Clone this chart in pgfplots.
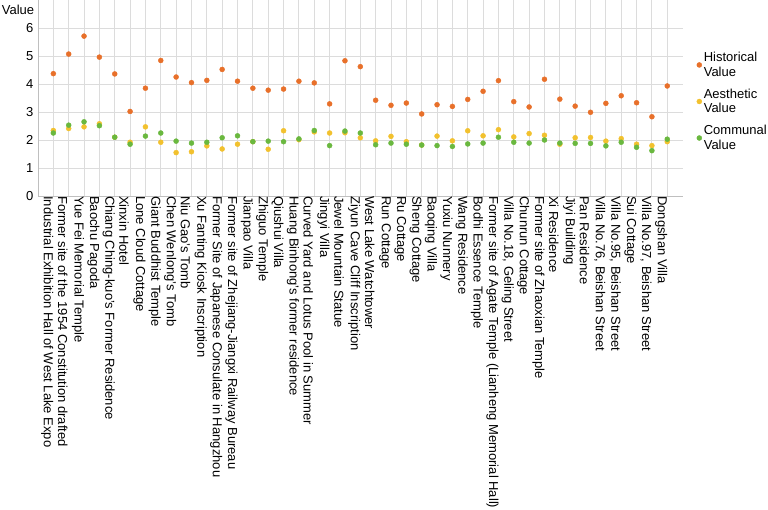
\documentclass[border=0pt]{standalone}
\usepackage{fontspec}
\setmainfont{Liberation Sans}
\usepackage{pgfplots}
\usepackage{pgfplotstable}
\pgfplotsset{compat=1.18}
\definecolor{histc}{HTML}{E8702A}
\definecolor{aesc}{HTML}{F2C12E}
\definecolor{comc}{HTML}{6AB83F}
\definecolor{gridc}{HTML}{DCDCDC}
\definecolor{axisc}{HTML}{BFBFBF}
\pgfplotstableread{
x H A C
1 4.37 2.34 2.25
2 5.07 2.41 2.53
3 5.71 2.47 2.65
4 4.96 2.58 2.51
5 4.36 2.10 2.10
6 3.02 1.92 1.85
7 3.85 2.47 2.14
8 4.84 1.92 2.25
9 4.25 1.55 1.96
10 4.05 1.58 1.89
11 4.13 1.79 1.92
12 4.52 1.68 2.08
13 4.10 1.85 2.15
14 3.85 1.94 1.94
15 3.78 1.67 1.96
16 3.82 2.33 1.94
17 4.10 2.01 2.04
18 4.04 2.29 2.34
19 3.29 2.25 1.80
20 4.83 2.26 2.32
21 4.62 2.08 2.25
22 3.42 1.97 1.83
23 3.24 2.13 1.89
24 3.32 1.94 1.85
25 2.93 1.82 1.82
26 3.26 2.14 1.80
27 3.20 1.97 1.77
28 3.45 2.33 1.86
29 3.74 2.15 1.89
30 4.12 2.37 2.10
31 3.37 2.11 1.92
32 3.18 2.23 1.89
33 4.17 2.17 2.00
34 3.46 1.85 1.89
35 3.21 2.08 1.88
36 2.99 2.09 1.88
37 3.31 1.96 1.79
38 3.58 2.05 1.92
39 3.33 1.85 1.74
40 2.83 1.80 1.62
41 3.93 1.94 2.03
}\datatable
\begin{document}
\begin{tikzpicture}
\useasboundingbox (-38pt,-313pt) rectangle (730pt,196pt);
\begin{axis}[
  at={(0pt,0pt)}, anchor=south west,
  scale only axis, width=644.6pt, height=196pt,
  xmin=0, xmax=42, ymin=0, ymax=7,
  xtick={1,...,41}, ytick={0,1,...,6},
  major tick length=0pt,
  axis x line*=bottom, axis y line*=left,
  axis line style={-, draw=axisc, line width=0.9pt},
  grid=major, major grid style={draw=gridc, line width=0.9pt},
  /pgf/number format/assume math mode=true,
  tick label style={font=\fontsize{13}{15}\selectfont},
  yticklabel style={xshift=-1pt},
  xticklabel style={rotate=-90, anchor=west, inner sep=0pt, yshift=-6pt},
  xticklabels={
    {Industrial Exhibition Hall of West Lake Expo},
    {Former site of the 1954 Constitution drafted},
    {Yue Fei Memorial Temple},
    {Baochu Pagoda},
    {Chiang Ching-kuo's Former Residence},
    {Xinxin Hotel},
    {Lone Cloud Cottage},
    {Giant Buddhist Temple},
    {Chen Wenlong's Tomb},
    {Niu Gao's Tomb},
    {Xu Fanting Kiosk Inscription},
    {Former Site of Japanese Consulate in Hangzhou},
    {Former site of Zhejiang-Jiangxi Railway Bureau},
    {Jianpao Villa},
    {Zhiguo Temple},
    {Qiushui Villa},
    {Huang Binhong's former residence},
    {Curved Yard and Lotus Pool in Summer},
    {Jingyi Villa},
    {Jewel Mountain Statue},
    {Ziyun Cave Cliff Inscription},
    {West Lake Watchtower},
    {Run Cottage},
    {Ru Cottage},
    {Sheng Cottage},
    {Baoqing Villa},
    {Yuxiu Nunnery},
    {Wang Residence},
    {Bodhi Essence Temple},
    {Former site of Agate Temple (Lianheng Memorial Hall)},
    {Villa No.18, Geling Street},
    {Chunrun Cottage},
    {Former site of Zhaoxian Temple},
    {Xi Residence},
    {Jiyi Building},
    {Pan Residence},
    {Villa No.76, Beishan Street},
    {Villa No.95, Beishan Street},
    {Sui Cottage},
    {Villa No.97, Beishan Street},
    {Dongshan Villa}},
  legend image code/.code={\draw[#1] plot coordinates {(0pt,0pt)};},
  legend style={draw=none, fill=none, at={(rel axis cs:1,1)}, anchor=north west,
    xshift=14pt, yshift=-50pt, font=\fontsize{13}{14.6}\selectfont,
    cells={align=left}, row sep=7pt, inner sep=0pt,
    /tikz/every even column/.append style={column sep=10pt}},
  legend cell align=left,
]
\addplot[only marks, mark=*, mark size=2.5pt, color=histc] table[x=x, y=H] {\datatable};
\addlegendentry{Historical\\Value}
\addplot[only marks, mark=*, mark size=2.5pt, color=aesc] table[x=x, y=A] {\datatable};
\addlegendentry{Aesthetic\\Value}
\addplot[only marks, mark=*, mark size=2.5pt, color=comc] table[x=x, y=C] {\datatable};
\addlegendentry{Communal\\Value}
\end{axis}
\node[font=\fontsize{13}{15}\selectfont] at (-20pt,186pt) {Value};
\end{tikzpicture}
\end{document}
